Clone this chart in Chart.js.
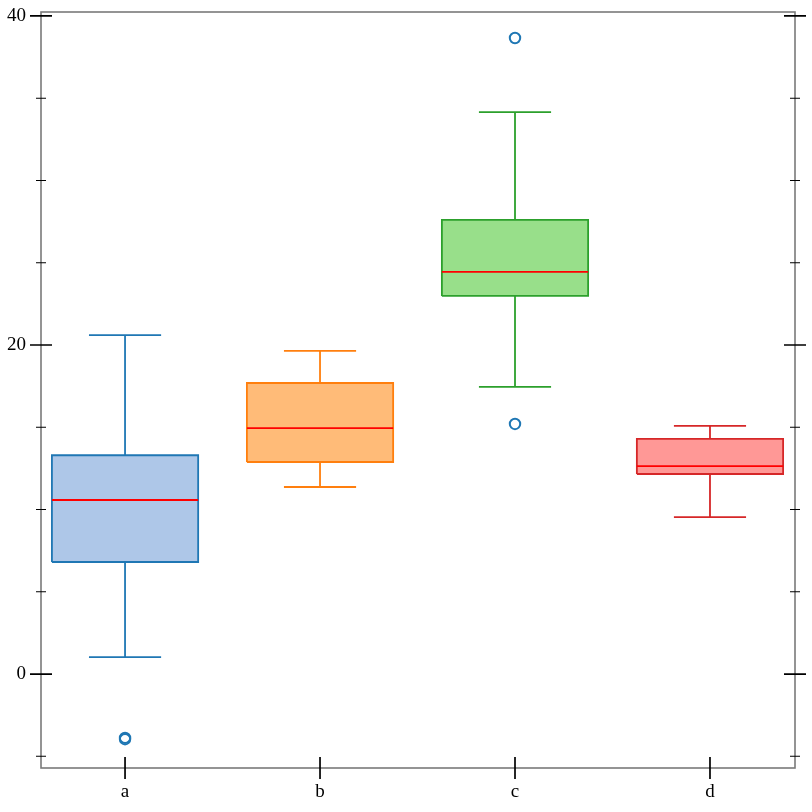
<!DOCTYPE html>
<html>
<head>
<meta charset="utf-8">
<script src="https://cdn.jsdelivr.net/npm/chart.js@4/dist/chart.umd.min.js"></script>
<style>
  html, body { margin: 0; padding: 0; background: #fff; }
  #wrap { width: 812px; height: 812px; }
</style>
</head>
<body>
<div id="wrap"><canvas id="c" width="812" height="812"></canvas></div>
<script>
// ---- data ----
const categories = ['a', 'b', 'c', 'd'];
const whiskerLow  = [1.03, 11.37, 17.45, 9.54];
const q1          = [6.81, 12.89, 22.98, 12.16];
const median      = [10.58, 14.95, 24.44, 12.64];
const q3          = [13.30, 17.69, 27.60, 14.29];
const whiskerHigh = [20.60, 19.64, 34.16, 15.08];
const outliers    = [[-3.88, -3.96], [], [38.66, 15.20], []];
const yTicks = [-5, 0, 5, 10, 15, 20, 25, 30, 35, 40];
const yLabelled = [0, 20, 40];

// ---- styles ----
const fills   = ['#aec7e8', '#ffbb78', '#98df8a', '#ff9896'];
const borders = ['#1f77b4', '#ff7f0e', '#2ca02c', '#d62728'];
const boxHalf = 0.375;
const capHalf = 0.185;

const datasets = [];
categories.forEach((cat, i) => {
  datasets.push({
    order: 3,
    data: [
      {x: i - boxHalf, y: q1[i]}, {x: i + boxHalf, y: q1[i]},
      {x: i + boxHalf, y: q3[i]}, {x: i - boxHalf, y: q3[i]},
      {x: i - boxHalf, y: q1[i]}
    ],
    showLine: true, fill: 'shape', backgroundColor: fills[i],
    borderColor: borders[i], borderWidth: 1.8, pointRadius: 0, tension: 0
  });
  datasets.push({
    order: 2,
    data: [
      {x: i, y: q3[i]}, {x: i, y: whiskerHigh[i]}, {x: i, y: null},
      {x: i - capHalf, y: whiskerHigh[i]}, {x: i + capHalf, y: whiskerHigh[i]}, {x: i, y: null},
      {x: i, y: q1[i]}, {x: i, y: whiskerLow[i]}, {x: i, y: null},
      {x: i - capHalf, y: whiskerLow[i]}, {x: i + capHalf, y: whiskerLow[i]}
    ],
    showLine: true, spanGaps: false, fill: false,
    borderColor: borders[i], borderWidth: 1.8, pointRadius: 0
  });
  datasets.push({
    order: 1,
    data: [{x: i - boxHalf, y: median[i]}, {x: i + boxHalf, y: median[i]}],
    showLine: true, fill: false, borderColor: '#ff0000', borderWidth: 1.8, pointRadius: 0
  });
});
categories.forEach((cat, i) => {
  datasets.push({
    order: 0,
    data: outliers[i].map(v => ({x: i, y: v})),
    showLine: false, pointRadius: 5.2, pointBorderWidth: 2,
    pointBackgroundColor: 'rgba(255,255,255,0)', pointBorderColor: '#1f77b4'
  });
});

const framePlugin = {
  id: 'frame',
  afterDraw(chart) {
    const {ctx, chartArea: a, scales} = chart;
    ctx.save();
    ctx.strokeStyle = '#7a7a7a';
    ctx.lineWidth = 1.6;
    ctx.strokeRect(a.left, a.top, a.right - a.left, a.bottom - a.top);
    ctx.strokeStyle = '#000';
    yTicks.forEach(v => {
      const y = scales.y.getPixelForValue(v);
      const L = yLabelled.includes(v) ? 11 : 5;
      ctx.lineWidth = yLabelled.includes(v) ? 1.7 : 1.1;
      ctx.beginPath();
      ctx.moveTo(a.left - L, y); ctx.lineTo(a.left + L, y);
      ctx.moveTo(a.right - L, y); ctx.lineTo(a.right + L, y);
      ctx.stroke();
    });
    ctx.lineWidth = 1.7;
    categories.forEach((c, i) => {
      const x = scales.x.getPixelForValue(i);
      ctx.beginPath();
      ctx.moveTo(x, a.bottom - 11); ctx.lineTo(x, a.bottom + 11);
      ctx.stroke();
    });
    ctx.restore();
  }
};

new Chart(document.getElementById('c'), {
  type: 'scatter',
  data: { datasets },
  plugins: [framePlugin],
  options: {
    responsive: false,
    animation: false,
    layout: { padding: { top: 12, right: 17, left: 0, bottom: 0 } },
    plugins: { legend: { display: false }, tooltip: { enabled: false } },
    scales: {
      x: {
        type: 'linear', min: -0.431, max: 3.436,
        grid: { display: false, drawTicks: false }, border: { display: false },
        afterBuildTicks: s => { s.ticks = categories.map((c, i) => ({value: i})); },
        ticks: {
          callback: v => categories[v] ?? '',
          font: { family: 'Liberation Serif', size: 19 }, color: '#000',
          padding: 13, maxRotation: 0
        },
        afterFit: s => { s.height = 44; s.paddingLeft = 0; s.paddingRight = 0; }
      },
      y: {
        type: 'linear', min: -5.71, max: 40.24,
        grid: { display: false, drawTicks: false }, border: { display: false },
        afterBuildTicks: s => { s.ticks = yTicks.map(v => ({value: v})); },
        ticks: {
          callback: v => yLabelled.includes(v) ? String(v) : '',
          font: { family: 'Liberation Serif', size: 19 }, color: '#000',
          padding: 15
        },
        afterFit: s => { s.width = 41; s.paddingTop = 0; s.paddingBottom = 0; }
      }
    }
  }
});
</script>
</body>
</html>
